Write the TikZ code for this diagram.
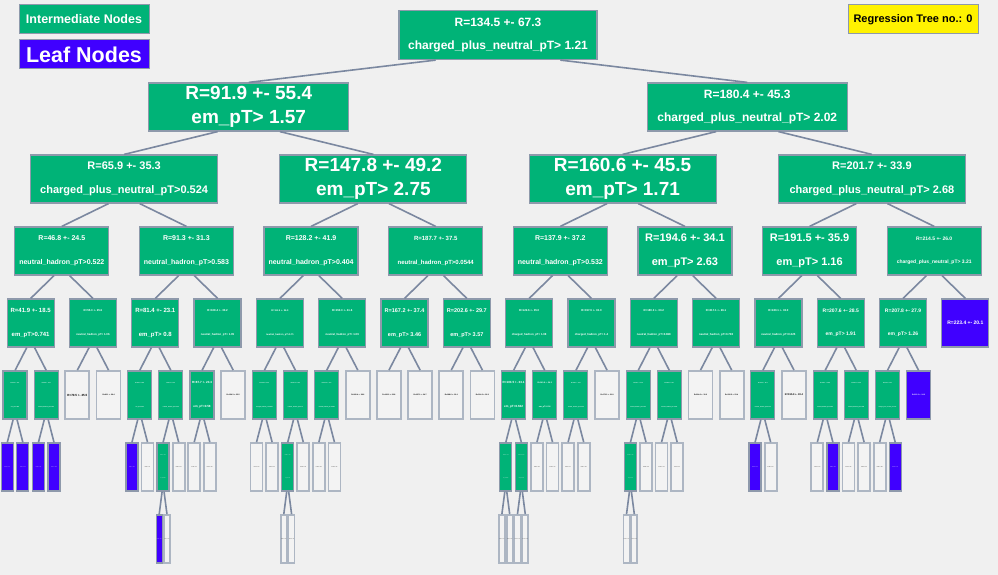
\documentclass[tikz,border=0pt]{standalone}
\usepackage{fontspec}
\setmainfont{Liberation Sans}
\usetikzlibrary{calc}
\definecolor{bgc}{HTML}{F0F0F0}
\definecolor{splitc}{HTML}{00B377}
\definecolor{leafc}{HTML}{4000FF}
\definecolor{boxc}{HTML}{8E99AB}
\definecolor{termc}{HTML}{ADB6C3}
\definecolor{termf}{HTML}{F3F3F3}
\definecolor{edgec}{HTML}{7B88A0}
\newcommand\fs[1]{\fontsize{#1}{23.5}\selectfont\bfseries}
\newcommand\tnode[4]{\node[#3,lv#1] (l#1n#2) at ({(#2+0.5)/2^#1*997-0.5},{35+72*#1}) {#4};}
\newcommand\link[2]{%
  \pgfmathtruncatemacro\lvup{#1-1}%
  \pgfmathtruncatemacro\lvpa{floor(#2/2)}%
  \draw[edge] ($(l\lvup n\lvpa.south)!.25!(l\lvup n\lvpa.south-|l#1n#2.north)$) -- (l#1n#2.north);}
\begin{document}
\begin{tikzpicture}[x=1pt,y=-1pt,
  split/.style={draw=boxc,line width=1.2pt,fill=splitc,text=white,align=center,inner sep=0pt,minimum height=48pt},
  leaf/.style={draw=boxc,line width=1.2pt,fill=leafc,text=white,align=center,inner sep=0pt,minimum height=48pt},
  term/.style={draw=termc,line width=1.8pt,fill=termf,text=black,align=center,inner sep=0pt,minimum height=48pt},
  lv0/.style={minimum width=198pt,minimum height=49pt},
  lv1/.style={minimum width=200pt},
  lv2/.style={minimum width=187pt},
  lv3/.style={minimum width=94pt},
  lv4/.style={minimum width=47pt},
  lv5/.style={minimum width=24pt},
  lv6/.style={minimum width=12pt},
  lv7/.style={minimum width=6pt},
  edge/.style={draw=edgec,line width=1.6pt},
  key/.style={draw=boxc,line width=1pt,minimum width=130pt,minimum height=29pt,inner sep=0pt}]
\fill[bgc] (0,0) rectangle (998,575);

\node[key,fill=splitc,text=white,font=\fs{12.5}] (keysplit) at (84,19.5) {Intermediate Nodes};
\node[key,fill=leafc,text=white,font=\fs{21.5}] (keyleaf) at (84,54.5) {Leaf Nodes};
\node[key,fill=yellow,text=black,font=\fs{11}] (treeno) at (913,19.5) {Regression Tree no.: 0};

\tnode{0}{0}{split,font=\fs{12}}{R=134.5 +- 67.3\\charged\_plus\_neutral\_pT> 1.21}

\tnode{1}{0}{split,font=\fs{19}}{R=91.9 +- 55.4\\em\_pT> 1.57}
\tnode{1}{1}{split,font=\fs{12}}{R=180.4 +- 45.3\\charged\_plus\_neutral\_pT> 2.02}

\tnode{2}{0}{split,font=\fs{11}}{R=65.9 +- 35.3\\charged\_plus\_neutral\_pT>0.524}
\tnode{2}{1}{split,font=\fs{19}}{R=147.8 +- 49.2\\em\_pT> 2.75}
\tnode{2}{2}{split,font=\fs{19}}{R=160.6 +- 45.5\\em\_pT> 1.71}
\tnode{2}{3}{split,font=\fs{11}}{R=201.7 +- 33.9\\charged\_plus\_neutral\_pT> 2.68}

\tnode{3}{0}{split,font=\fs{7}}{R=46.8 +- 24.5\\neutral\_hadron\_pT>0.522}
\tnode{3}{1}{split,font=\fs{7}}{R=91.3 +- 31.3\\neutral\_hadron\_pT>0.583}
\tnode{3}{2}{split,font=\fs{7}}{R=128.2 +- 41.9\\neutral\_hadron\_pT>0.404}
\tnode{3}{3}{split,font=\fs{6}}{R=187.7 +- 37.5\\neutral\_hadron\_pT>0.0544}
\tnode{3}{4}{split,font=\fs{7}}{R=137.9 +- 37.2\\neutral\_hadron\_pT>0.532}
\tnode{3}{5}{split,font=\fs{11}}{R=194.6 +- 34.1\\em\_pT> 2.63}
\tnode{3}{6}{split,font=\fs{11}}{R=191.5 +- 35.9\\em\_pT> 1.16}
\tnode{3}{7}{split,font=\fs{5}}{R=214.5 +- 26.0\\charged\_plus\_neutral\_pT> 3.21}

\tnode{4}{0}{split,font=\fs{6}}{R=41.9 +- 18.5\\em\_pT>0.741}
\tnode{4}{1}{split,font=\fs{2.8}}{R=55.3 +- 25.6\\neutral\_hadron\_pT> 1.06}
\tnode{4}{2}{split,font=\fs{6}}{R=81.4 +- 23.1\\em\_pT> 0.8}
\tnode{4}{3}{split,font=\fs{2.8}}{R=108.4 +- 30.2\\neutral\_hadron\_pT> 1.05}
\tnode{4}{4}{split,font=\fs{2.4}}{R=111.5 +- 36.0\\neutral\_hadron\_pT>0.71}
\tnode{4}{5}{split,font=\fs{2.8}}{R=150.3 +- 41.6\\neutral\_hadron\_pT> 1.09}
\tnode{4}{6}{split,font=\fs{5.5}}{R=167.2 +- 37.4\\em\_pT> 3.46}
\tnode{4}{7}{split,font=\fs{5.5}}{R=202.6 +- 29.7\\em\_pT> 3.57}
\tnode{4}{8}{split,font=\fs{2.8}}{R=122.6 +- 35.0\\charged\_hadron\_pT> 1.08}
\tnode{4}{9}{split,font=\fs{2.8}}{R=157.9 +- 33.0\\charged\_hadron\_pT> 1.4}
\tnode{4}{10}{split,font=\fs{2.8}}{R=180.3 +- 33.2\\neutral\_hadron\_pT>0.868}
\tnode{4}{11}{split,font=\fs{2.8}}{R=217.1 +- 26.1\\neutral\_hadron\_pT>0.708}
\tnode{4}{12}{split,font=\fs{2.8}}{R=180.1 +- 33.0\\neutral\_hadron\_pT>0.225}
\tnode{4}{13}{split,font=\fs{5}}{R=207.6 +- 28.5\\em\_pT> 1.91}
\tnode{4}{14}{split,font=\fs{5}}{R=207.8 +- 27.9\\em\_pT> 1.26}
\tnode{4}{15}{leaf,font=\fs{5}}{R=223.4 +- 20.1}

\tnode{5}{0}{split,font=\fs{1.3}}{R=33.6 +- 14.1\\em\_pT>0.283}
\tnode{5}{1}{split,font=\fs{1.3}}{R=50.9 +- 16.9\\neutral\_hadron\_pT>0.112}
\tnode{5}{2}{term,font=\fs{3}}{R=70.5 +- 25.5}
\tnode{5}{3}{term,font=\fs{1.8}}{R=86.1 +- 29.4}
\tnode{5}{4}{split,font=\fs{1.3}}{R=68.9 +- 18.8\\em\_pT>0.262}
\tnode{5}{5}{split,font=\fs{1.3}}{R=92.1 +- 21.2\\neutral\_hadron\_pT>0.205}
\tnode{5}{6}{split,font=\fs{3}}{R=87.7 +- 23.3\\em\_pT>0.58}
\tnode{5}{7}{term,font=\fs{1.8}}{R=124.3 +- 33.5}
\tnode{5}{8}{split,font=\fs{1.3}}{R=104.8 +- 33.6\\charged\_hadron\_pT>0.842}
\tnode{5}{9}{split,font=\fs{1.3}}{R=135.2 +- 36.4\\neutral\_hadron\_pT>1.37}
\tnode{5}{10}{split,font=\fs{1.3}}{R=141.5 +- 37.9\\neutral\_hadron\_pT>0.968}
\tnode{5}{11}{term,font=\fs{1.8}}{R=180.4 +- 38.6}
\tnode{5}{12}{term,font=\fs{1.8}}{R=160.2 +- 33.8}
\tnode{5}{13}{term,font=\fs{1.8}}{R=187.3 +- 34.7}
\tnode{5}{14}{term,font=\fs{1.8}}{R=198.6 +- 29.1}
\tnode{5}{15}{term,font=\fs{1.8}}{R=214.2 +- 26.3}
\tnode{5}{16}{split,font=\fs{3}}{R=103.5 +- 33.1\\em\_pT>0.632}
\tnode{5}{17}{split,font=\fs{2}}{R=140.9 +- 34.2\\em\_pT>0.94}
\tnode{5}{18}{split,font=\fs{1.3}}{R=149.7 +- 32.6\\neutral\_hadron\_pT>0.314}
\tnode{5}{19}{term,font=\fs{1.8}}{R=173.3 +- 31.9}
\tnode{5}{20}{split,font=\fs{1.3}}{R=171.4 +- 31.5\\neutral\_hadron\_pT>0.347}
\tnode{5}{21}{split,font=\fs{1.3}}{R=198.2 +- 30.7\\neutral\_hadron\_pT>0.421}
\tnode{5}{22}{term,font=\fs{1.8}}{R=204.6 +- 30.2}
\tnode{5}{23}{term,font=\fs{1.8}}{R=226.5 +- 23.4}
\tnode{5}{24}{split,font=\fs{1.3}}{R=172.3 +- 32.9\\neutral\_hadron\_pT>0.103}
\tnode{5}{25}{term,font=\fs{2.5}}{R=195.9 +- 30.4}
\tnode{5}{26}{split,font=\fs{1.3}}{R=193.7 +- 28.8\\neutral\_hadron\_pT>0.612}
\tnode{5}{27}{split,font=\fs{1.3}}{R=220.1 +- 24.9\\neutral\_hadron\_pT>0.391}
\tnode{5}{28}{split,font=\fs{1.2}}{R=198.3 +- 28.4\\charged\_plus\_neutral\_pT>2.83}
\tnode{5}{29}{leaf,font=\fs{1.8}}{R=215.3 +- 24.2}

\tnode{6}{0}{leaf,font=\fs{0.8}}{R=28.7 +- 11.2}
\tnode{6}{1}{leaf,font=\fs{0.8}}{R=41.3 +- 13.9}
\tnode{6}{2}{leaf,font=\fs{0.8}}{R=45.2 +- 14.6}
\tnode{6}{3}{leaf,font=\fs{0.8}}{R=61.7 +- 15.8}
\tnode{6}{8}{leaf,font=\fs{0.8}}{R=62.4 +- 16.5}
\tnode{6}{9}{term,font=\fs{0.8}}{R=84.6 +- 17.9}
\tnode{6}{10}{split,font=\fs{0.8}}{R=85.3 +- 19.6\\em\_pT>0.541}
\tnode{6}{11}{term,font=\fs{0.8}}{R=108.2 +- 20.4}
\tnode{6}{12}{term,font=\fs{0.8}}{R=79.8 +- 20.1}
\tnode{6}{13}{term,font=\fs{0.8}}{R=101.6 +- 22.7}
\tnode{6}{16}{term,font=\fs{0.8}}{R=93.4 +- 30.8}
\tnode{6}{17}{term,font=\fs{0.8}}{R=121.9 +- 32.1}
\tnode{6}{18}{split,font=\fs{0.8}}{R=128.4 +- 34.7\\em\_pT>1.33}
\tnode{6}{19}{term,font=\fs{0.8}}{R=160.9 +- 32.6}
\tnode{6}{20}{term,font=\fs{0.8}}{R=130.6 +- 35.2}
\tnode{6}{21}{term,font=\fs{0.8}}{R=163.8 +- 33.0}
\tnode{6}{32}{split,font=\fs{0.8}}{R=91.8 +- 30.2\\em\_pT>0.291}
\tnode{6}{33}{split,font=\fs{0.8}}{R=121.5 +- 32.3\\em\_pT>0.457}
\tnode{6}{34}{term,font=\fs{0.8}}{R=129.6 +- 32.8}
\tnode{6}{35}{term,font=\fs{0.8}}{R=158.3 +- 31.4}
\tnode{6}{36}{term,font=\fs{0.8}}{R=139.1 +- 31.7}
\tnode{6}{37}{term,font=\fs{0.8}}{R=165.4 +- 30.2}
\tnode{6}{40}{split,font=\fs{0.8}}{R=160.7 +- 31.2\\em\_pT>1.18}
\tnode{6}{41}{term,font=\fs{0.8}}{R=188.9 +- 29.8}
\tnode{6}{42}{term,font=\fs{0.8}}{R=185.1 +- 30.5}
\tnode{6}{43}{term,font=\fs{0.8}}{R=211.4 +- 27.6}
\tnode{6}{48}{leaf,font=\fs{0.8}}{R=162.5 +- 32.1}
\tnode{6}{49}{term,font=\fs{0.8}}{R=189.3 +- 29.7}
\tnode{6}{52}{term,font=\fs{0.8}}{R=182.7 +- 28.4}
\tnode{6}{53}{leaf,font=\fs{0.8}}{R=205.2 +- 26.8}
\tnode{6}{54}{term,font=\fs{0.8}}{R=210.6 +- 25.9}
\tnode{6}{55}{term,font=\fs{0.8}}{R=232.0 +- 21.8}
\tnode{6}{56}{term,font=\fs{0.8}}{R=186.4 +- 28.5}
\tnode{6}{57}{leaf,font=\fs{0.8}}{R=213.9 +- 25.1}

\tnode{7}{20}{leaf,font=\fs{0.7}}{R=78.6 +- 18.3}
\tnode{7}{21}{term,font=\fs{0.7}}{R=97.2 +- 19.5}
\tnode{7}{36}{term,font=\fs{0.7}}{R=115.4 +- 33.6}
\tnode{7}{37}{term,font=\fs{0.7}}{R=141.8 +- 32.9}
\tnode{7}{64}{term,font=\fs{0.7}}{R=80.2 +- 27.9}
\tnode{7}{65}{term,font=\fs{0.7}}{R=104.1 +- 29.6}
\tnode{7}{66}{term,font=\fs{0.7}}{R=110.5 +- 31.2}
\tnode{7}{67}{term,font=\fs{0.7}}{R=134.7 +- 30.8}
\tnode{7}{80}{term,font=\fs{0.7}}{R=148.3 +- 30.6}
\tnode{7}{81}{term,font=\fs{0.7}}{R=175.2 +- 29.4}

\foreach \l in {1,...,4}{
  \pgfmathtruncatemacro\lastn{2^\l-1}
  \foreach \i in {0,...,\lastn}{\link{\l}{\i}}
}
\foreach \i in {0,...,29}{\link{5}{\i}}
\foreach \i in {0,1,2,3,8,9,10,11,12,13,16,17,18,19,20,21,32,33,34,35,36,37,40,41,42,43,48,49,52,53,54,55,56,57}{\link{6}{\i}}
\foreach \i in {20,21,36,37,64,65,66,67,80,81}{\link{7}{\i}}
\end{tikzpicture}
\end{document}
